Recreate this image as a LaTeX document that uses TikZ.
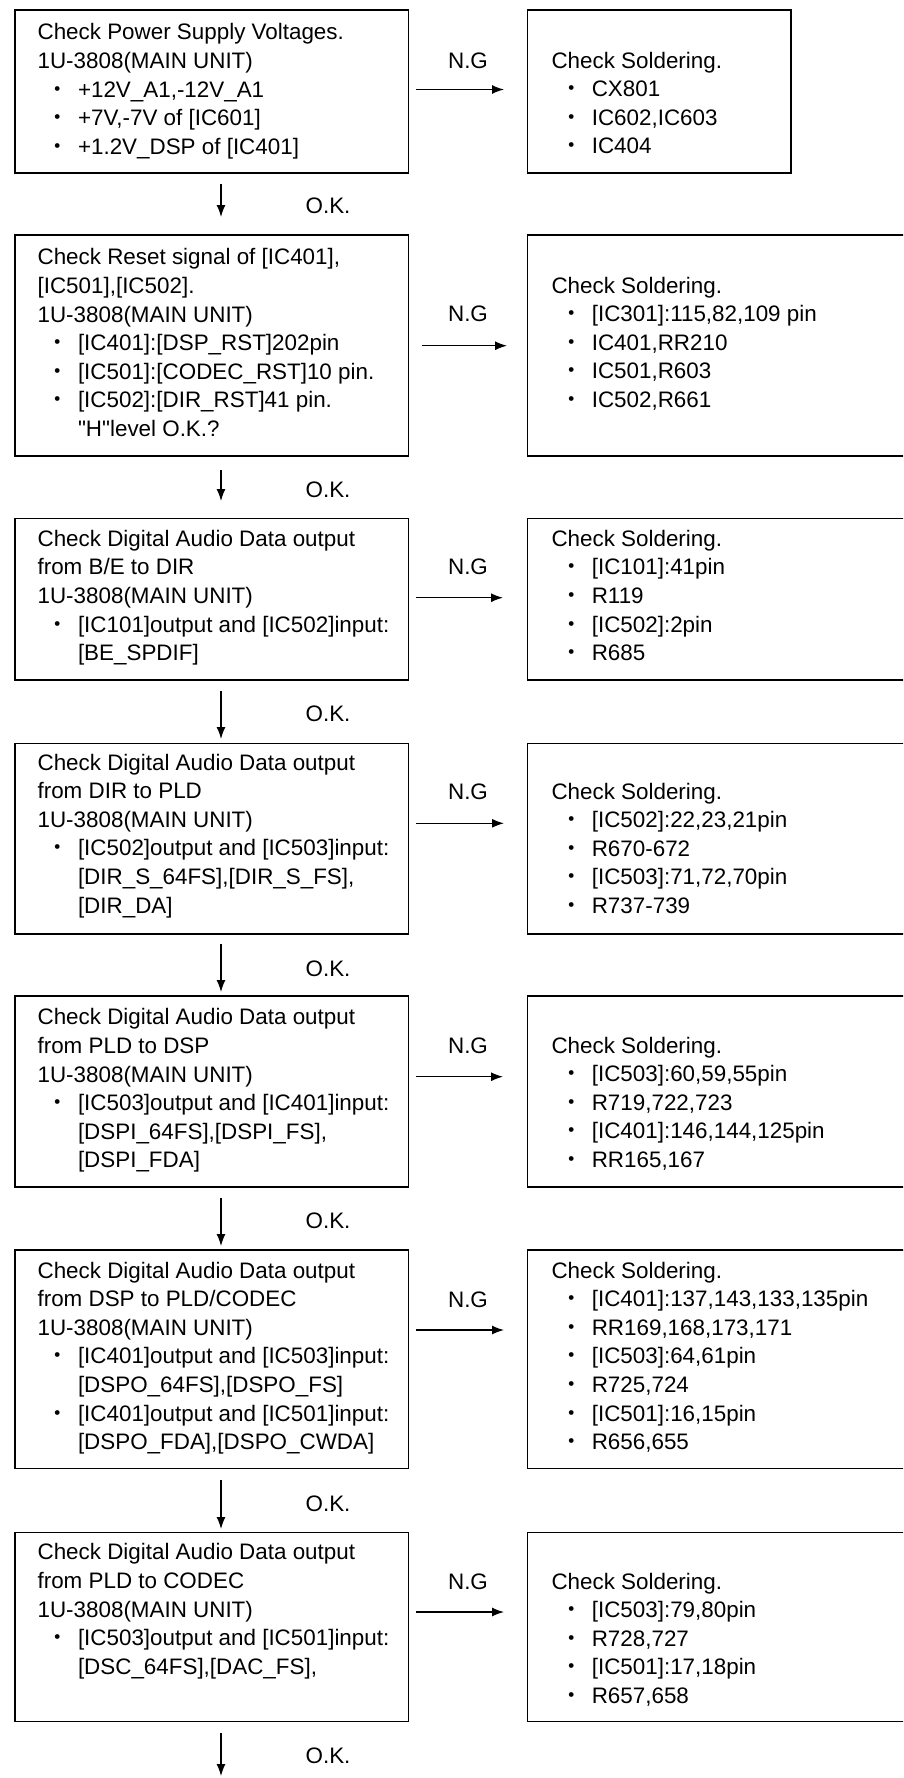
\documentclass[tikz,border=0pt]{standalone}
\usepackage{fontspec}
\setmainfont{Liberation Sans}
\newfontfamily\qf{Liberation Sans}
\newfontfamily\cjk{Noto Sans CJK JP}
\usetikzlibrary{arrows.meta}
\newcommand\bul{\llap{{\cjk ・}\hspace{8.8pt}}}
\newcommand\dq{{\qf\char34}}
\newcommand\blk[5]{%
  \foreach \k/\t [count=\i] in {#5}{%
    \pgfmathsetmacro\yy{#4+28.65*(\i-1)+8}%
    \ifnum\k=0 \node[txt] (#1-\i) at (#2,\yy) {\t};%
    \else\ifnum\k=1 \node[txt] (#1-\i) at (#3,\yy) {\t};%
    \else \node[txt] (#1-\i) at (#3,\yy) {\bul\t};\fi\fi
  }}
\begin{document}
\begin{tikzpicture}[x=1pt,y=-1pt,
  box/.style={draw, line width=1.6pt, inner sep=0pt, anchor=north west},
  txt/.style={anchor=base west, inner sep=0pt, font=\fontsize{22.4}{28.6}\selectfont},
  lbl/.style={anchor=base, inner sep=0pt, font=\fontsize{22.4}{28.6}\selectfont},
  arr/.style={line width=1.3pt, -{Latex[length=12pt,width=9pt]}}]
\useasboundingbox (0,0) rectangle (903,1778);
\clip (0,0) rectangle (903,1778);
\fill[white] (0,0) rectangle (903,1778);
% left boxes
\node[box, minimum width=393.4pt, minimum height=162.7pt] (b1) at (14.4,9.3) {};
\node[box, minimum width=393.4pt, minimum height=220.7pt] (b2) at (14.4,234.3) {};
\node[box, minimum width=393.4pt, minimum height=161.6pt] (b3) at (14.4,517.7) {};
\node[box, minimum width=393.4pt, minimum height=190.6pt] (b4) at (14.4,742.7) {};
\node[box, minimum width=393.4pt, minimum height=191pt] (b5) at (14.4,995) {};
\node[box, minimum width=393.4pt, minimum height=218.4pt] (b6) at (14.4,1249.3) {};
\node[box, minimum width=393.4pt, minimum height=189pt] (b7) at (14.4,1531.7) {};
% right boxes
\node[box, minimum width=263.5pt, minimum height=162.7pt] (r1) at (526.5,9.3) {};
\node[box, minimum width=400pt, minimum height=220.7pt] (r2) at (526.5,234.3) {};
\node[box, minimum width=400pt, minimum height=161.6pt] (r3) at (526.5,517.7) {};
\node[box, minimum width=400pt, minimum height=190.6pt] (r4) at (526.5,742.7) {};
\node[box, minimum width=400pt, minimum height=191pt] (r5) at (526.5,995) {};
\node[box, minimum width=400pt, minimum height=218.4pt] (r6) at (526.5,1249.3) {};
\node[box, minimum width=400pt, minimum height=189pt] (r7) at (526.5,1531.7) {};
% texts
\blk{t1}{37.4}{77.8}{31.7}{0/{Check Power Supply Voltages.},0/{1U-3808(MAIN UNIT)},2/{+12V\_A1,-12V\_A1},2/{+7V,-7V of [IC601]},2/{+1.2V\_DSP of [IC401]}}
\blk{s1}{551.3}{591.6}{60}{0/{Check Soldering.},2/{CX801},2/{IC602,IC603},2/{IC404}}
\blk{t2}{37.4}{77.8}{256.7}{0/{Check Reset signal of [IC401],},0/{[IC501],[IC502].},0/{1U-3808(MAIN UNIT)},2/{[IC401]:[DSP\_RST]202pin},2/{[IC501]:[CODEC\_RST]10 pin.},2/{[IC502]:[DIR\_RST]41 pin.},1/{\dq H\dq level O.K.?}}
\blk{s2}{551.3}{591.6}{285}{0/{Check Soldering.},2/{[IC301]:115,82,109 pin},2/{IC401,RR210},2/{IC501,R603},2/{IC502,R661}}
\blk{t3}{37.4}{77.8}{538.3}{0/{Check Digital Audio Data output},0/{from B/E to DIR},0/{1U-3808(MAIN UNIT)},2/{[IC101]output and [IC502]input:},1/{[BE\_SPDIF]}}
\blk{s3}{551.3}{591.6}{538.3}{0/{Check Soldering.},2/{[IC101]:41pin},2/{R119},2/{[IC502]:2pin},2/{R685}}
\blk{t4}{37.4}{77.8}{762}{0/{Check Digital Audio Data output},0/{from DIR to PLD},0/{1U-3808(MAIN UNIT)},2/{[IC502]output and [IC503]input:},1/{[DIR\_S\_64FS],[DIR\_S\_FS],},1/{[DIR\_DA]}}
\blk{s4}{551.3}{591.6}{791}{0/{Check Soldering.},2/{[IC502]:22,23,21pin},2/{R670-672},2/{[IC503]:71,72,70pin},2/{R737-739}}
\blk{t5}{37.4}{77.8}{1016.7}{0/{Check Digital Audio Data output},0/{from PLD to DSP},0/{1U-3808(MAIN UNIT)},2/{[IC503]output and [IC401]input:},1/{[DSPI\_64FS],[DSPI\_FS],},1/{[DSPI\_FDA]}}
\blk{s5}{551.3}{591.6}{1045}{0/{Check Soldering.},2/{[IC503]:60,59,55pin},2/{R719,722,723},2/{[IC401]:146,144,125pin},2/{RR165,167}}
\blk{t6}{37.4}{77.8}{1270}{0/{Check Digital Audio Data output},0/{from DSP to PLD/CODEC},0/{1U-3808(MAIN UNIT)},2/{[IC401]output and [IC503]input:},1/{[DSPO\_64FS],[DSPO\_FS]},2/{[IC401]output and [IC501]input:},1/{[DSPO\_FDA],[DSPO\_CWDA]}}
\blk{s6}{551.3}{591.6}{1270}{0/{Check Soldering.},2/{[IC401]:137,143,133,135pin},2/{RR169,168,173,171},2/{[IC503]:64,61pin},2/{R725,724},2/{[IC501]:16,15pin},2/{R656,655}}
\blk{t7}{37.4}{77.8}{1551.7}{0/{Check Digital Audio Data output},0/{from PLD to CODEC},0/{1U-3808(MAIN UNIT)},2/{[IC503]output and [IC501]input:},1/{[DSC\_64FS],[DAC\_FS],}}
\blk{s7}{551.3}{591.6}{1581}{0/{Check Soldering.},2/{[IC503]:79,80pin},2/{R728,727},2/{[IC501]:17,18pin},2/{R657,658}}
% N.G arrows and labels
\foreach \n/\ly/\ay/\xa/\xb in {1/60/89.5/416/504, 2/313/345.7/421.6/507, 3/566.7/597.7/416/503, 4/791.7/823.3/416/504, 5/1045/1076.7/416/503, 6/1299/1330/416/504, 7/1581/1612/416/504}{
  \node[lbl] (ng\n) at (468,\ly+8) {N.G};
  \coordinate (nga\n) at (\xa,\ay);
  \coordinate (ngb\n) at (\xb,\ay);
  \draw[arr] (nga\n) -- (ngb\n);
}
% O.K. arrows and labels
\foreach \n/\ly/\ya/\yb in {1/205/184/217, 2/489/470/501, 3/713/691/739, 4/968/944/992, 5/1220/1197.7/1246, 6/1503/1480/1529, 7/1755/1733/1776}{
  \node[lbl] (ok\n) at (328,\ly+8) {O.K.};
  \coordinate (oka\n) at (221,\ya);
  \coordinate (okb\n) at (221,\yb);
  \draw[arr] (oka\n) -- (okb\n);
}
\end{tikzpicture}
\end{document}
